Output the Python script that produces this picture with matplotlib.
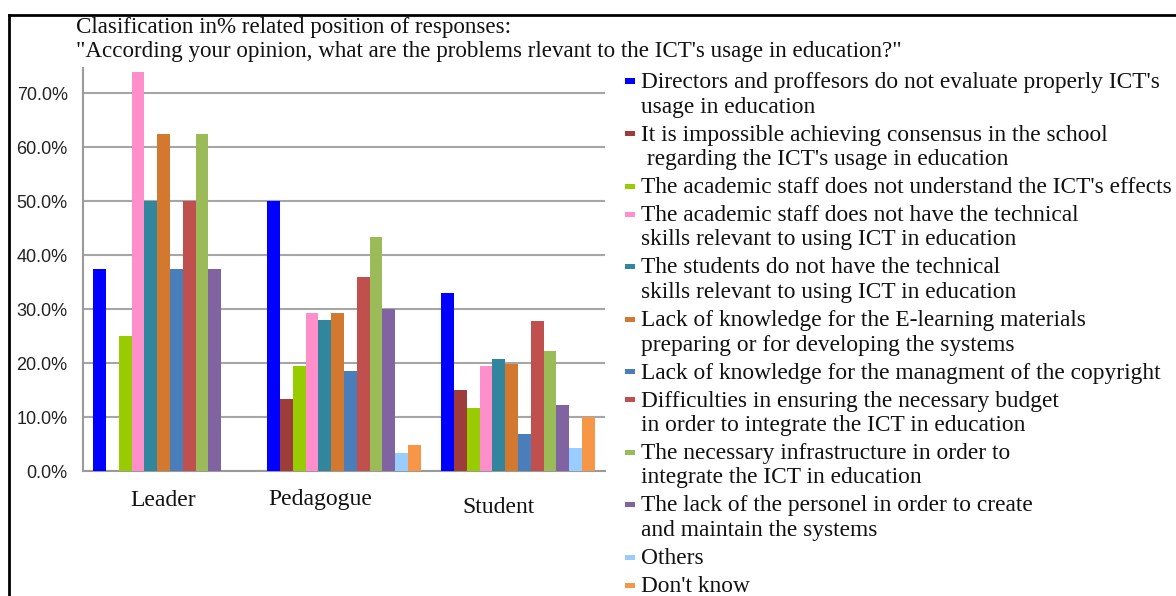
import numpy as np
import matplotlib
matplotlib.use("Agg")
import matplotlib.pyplot as plt
from matplotlib.patches import Rectangle
from matplotlib.lines import Line2D
from matplotlib.transforms import ScaledTranslation

# ---------------- data ----------------
categories = ["Leader", "Pedagogue", "Student"]

series_labels = [
    ["Directors and proffesors do not evaluate properly ICT's", "usage in education"],
    ["It is impossible achieving consensus in the school", " regarding the ICT's usage in education"],
    ["The academic staff does not understand the ICT's effects"],
    ["The academic staff does not have the technical", "skills relevant to using ICT in education"],
    ["The students do not have the technical", "skills relevant to using ICT in education"],
    ["Lack of knowledge for the E-learning materials", "preparing or for developing the systems"],
    ["Lack of knowledge for the managment of the copyright"],
    ["Difficulties in ensuring the necessary budget", "in order to integrate the ICT in education"],
    ["The necessary infrastructure in order to", "integrate the ICT in education"],
    ["The lack of the personel in order to create", "and maintain the systems"],
    ["Others"],
    ["Don't know"],
]

# values in % for Leader, Pedagogue, Student
directors_eval = [37.5, 50.0, 33.0]
no_consensus = [0.0, 13.4, 15.1]
staff_not_understand = [25.0, 19.4, 11.7]
staff_no_skills = [74.0, 29.2, 19.4]
students_no_skills = [50.0, 28.0, 20.7]
elearning_knowledge = [62.5, 29.2, 19.9]
copyright_knowledge = [37.5, 18.5, 6.9]
budget = [50.0, 35.9, 27.8]
infrastructure = [62.5, 43.4, 22.2]
personel = [37.5, 30.0, 12.2]
others = [0.0, 3.3, 4.3]
dont_know = [0.0, 4.8, 10.1]

series_values = [directors_eval, no_consensus, staff_not_understand, staff_no_skills,
                 students_no_skills, elearning_knowledge, copyright_knowledge, budget,
                 infrastructure, personel, others, dont_know]

colors = ["#0000FF", "#9E3B3B", "#99CC00", "#FF8FCB", "#31859C", "#D2782F",
          "#4A7EBB", "#C0504D", "#9BBB59", "#8064A2", "#99CCFF", "#F79646"]

yticks = [0, 10, 20, 30, 40, 50, 60, 70]

title_lines = ["Clasification in% related position of responses:",
               "\"According your opinion, what are the problems rlevant to the ICT's usage in education?\""]

# ---------------- figure ----------------
W, H = 1176, 596
fig = plt.figure(figsize=(W / 100, H / 100), dpi=100)
fig.patch.set_facecolor("white")

def fx(px):
    return px / W

def fy(py):
    return 1 - py / H

ax_left, ax_right, ax_top, ax_bottom = 83, 605, 68, 471
ax = fig.add_axes([fx(ax_left), fy(ax_bottom), fx(ax_right - ax_left), (ax_bottom - ax_top) / H])

n = len(series_values)
group_width = 0.88
bw = group_width / n
x = np.arange(len(categories))
for i, (vals, col) in enumerate(zip(series_values, colors)):
    ax.bar(x + (i - (n - 1) / 2) * bw, vals, width=bw, color=col, linewidth=0,
           zorder=3, label=" ".join(s.strip() for s in series_labels[i]))

ax.set_xlim(-0.5, len(categories) - 0.5)
ax.set_ylim(0, 74.7)
ax.set_yticks(yticks)
ax.set_yticklabels([f"{v:.1f}%" for v in yticks], fontfamily="Liberation Sans",
                   fontsize=13, color="#222222")
ax.set_xticks(x)
ax.set_xticklabels(categories, fontfamily="Liberation Serif", fontsize=17, color="#111111")
ax.tick_params(axis="y", length=0, pad=11)
ax.tick_params(axis="x", length=0, pad=14)
# small offsets of the category labels as placed in the original
for lab, (dx, dy) in zip(ax.get_xticklabels(), [(-7, 0), (-24, 1), (-20, -7)]):
    lab.set_transform(lab.get_transform() + ScaledTranslation(dx / 100, dy / 100, fig.dpi_scale_trans))

ax.yaxis.grid(True, color="#A6A6A6", linewidth=1.5, zorder=0)
ax.set_axisbelow(True)
for s in ["top", "right"]:
    ax.spines[s].set_visible(False)
for s in ["left", "bottom"]:
    ax.spines[s].set_color("#9A9A9A")
    ax.spines[s].set_linewidth(1.5)

# title
for k, line in enumerate(title_lines):
    fig.text(fx(76), fy(33 + 24 * k), line, fontfamily="Liberation Serif", fontsize=16.6,
             va="baseline", ha="left", color="#111111")

# legend (drawn as a custom block with multi-line labels)
line_h = 24.5
entry_gap = 28
baseline = 88
for lines, col in zip(series_labels, colors):
    fig.patches.append(Rectangle((fx(625), fy(baseline - 4.5)), fx(10), 5 / H,
                                 transform=fig.transFigure, facecolor=col, edgecolor="none"))
    for j, txt in enumerate(lines):
        fig.text(fx(641), fy(baseline + j * line_h), txt, fontfamily="Liberation Serif",
                 fontsize=16.8, va="baseline", ha="left", color="#111111")
    baseline += (len(lines) - 1) * line_h + entry_gap

# outer border
fig.lines.append(Line2D([fx(8.5), fx(8.5)], [fy(15), 0], transform=fig.transFigure,
                        color="black", linewidth=2))
fig.lines.append(Line2D([fx(8.5), 1], [fy(15), fy(15)], transform=fig.transFigure,
                        color="black", linewidth=2))

fig.savefig("out.png", dpi=100)
